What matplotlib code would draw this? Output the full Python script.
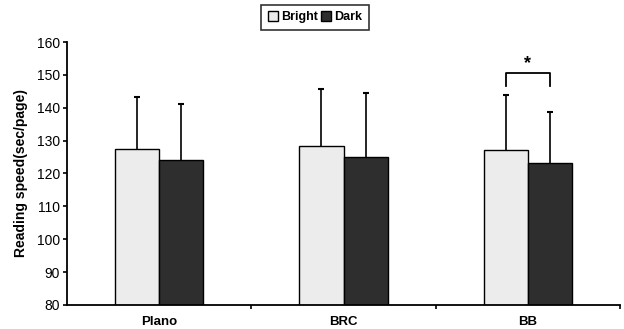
import matplotlib
matplotlib.use("Agg")
import matplotlib.pyplot as plt
import numpy as np

plt.rcParams['font.family'] = ['Liberation Sans', 'DejaVu Sans']

categories = ["Plano", "BRC", "BB"]
series_names = ["Bright", "Dark"]
bright_mean = [127.4, 128.3, 127.0]
bright_sd = [15.8, 17.4, 16.9]
dark_mean = [124.1, 125.0, 123.2]
dark_sd = [17.0, 19.4, 15.5]
y_ticks = [80, 90, 100, 110, 120, 130, 140, 150, 160]

fig = plt.figure(figsize=(6.24, 3.29), dpi=100)
ax = fig.add_axes([0.1074, 0.073, 0.8862, 0.7993])

x = np.arange(len(categories))
w = 0.24
colors = ["#ececec", "#2e2e2e"]
for i, (m, s) in enumerate([(bright_mean, bright_sd), (dark_mean, dark_sd)]):
    pos = x + (i - 0.5) * w
    ax.bar(pos, m, width=w, color=colors[i], edgecolor="black", linewidth=1.0,
           label=series_names[i], zorder=2)
    cont = ax.errorbar(pos, m, yerr=[np.zeros(len(m)), s], fmt="none", ecolor="black",
                       elinewidth=1.2, capsize=2.5, capthick=1.5, zorder=3)
    caps = cont[1]
    # hide the lower caps (at the bar tops)
    for c in caps:
        yd = np.asarray(c.get_ydata())
        if np.allclose(yd, np.asarray(m)):
            c.set_visible(False)

# significance bracket for BB
bx0 = x[2] - w / 2
bx1 = x[2] + w / 2
ax.plot([bx0, bx0, bx1, bx1], [146.6, 150.5, 150.5, 146.6], color="black", lw=1.3, zorder=3)
ax.text(x[2], 151.0, "*", ha="center", va="bottom", fontsize=13, fontweight="bold")

ax.set_ylim(80, 160)
ax.set_xlim(-0.5, 2.5)
ax.set_yticks(y_ticks)
ax.set_yticklabels([str(t) for t in y_ticks], fontsize=10)
ax.set_xticks([0.5, 1.5, 2.5])
ax.set_xticklabels([])
ax.set_xticks(x, minor=True)
ax.set_xticklabels(categories, minor=True, fontsize=9.5, fontweight="bold")
ax.tick_params(axis="x", which="minor", length=0, pad=8)
ax.tick_params(axis="x", which="major", length=3, width=1.2, direction="out")
ax.tick_params(axis="y", length=3, width=1.2, direction="out", pad=2)
for sp in ["top", "right"]:
    ax.spines[sp].set_visible(False)
for sp in ["left", "bottom"]:
    ax.spines[sp].set_linewidth(1.3)
ax.set_ylabel("Reading speed(sec/page)", fontsize=10, fontweight="bold", labelpad=6)

leg = fig.legend(loc="upper center", bbox_to_anchor=(0.505, 0.985), ncol=2,
                 frameon=True, fancybox=False, edgecolor="black",
                 prop={"weight": "bold", "size": 9}, handlelength=0.8,
                 handleheight=0.8, handletextpad=0.25, columnspacing=0.3,
                 borderpad=0.5, borderaxespad=0)
leg.get_frame().set_linewidth(1.2)

fig.savefig("out.png", dpi=100)
